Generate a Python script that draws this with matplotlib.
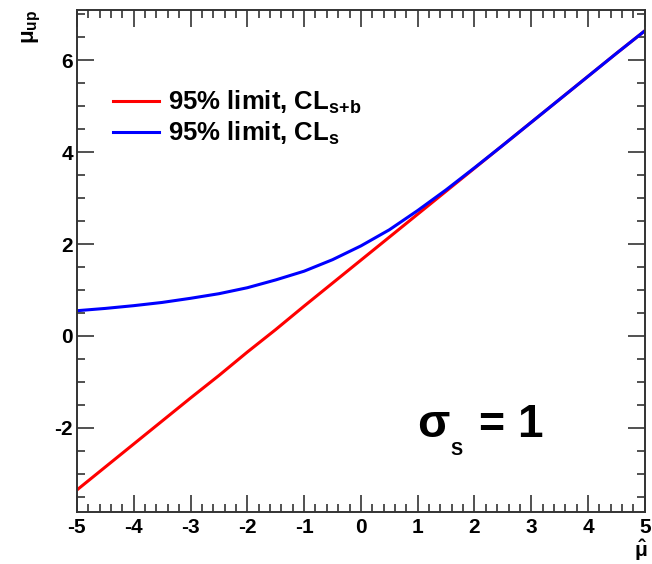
import numpy as np
import matplotlib
matplotlib.use("Agg")
import matplotlib.pyplot as plt
from matplotlib.ticker import MultipleLocator

plt.rcParams['font.family'] = ['Liberation Sans', 'DejaVu Sans']
plt.rcParams['font.weight'] = 'bold'
plt.rcParams['axes.unicode_minus'] = False
plt.rcParams['mathtext.fontset'] = 'custom'
plt.rcParams['mathtext.rm'] = 'Liberation Sans:bold'
plt.rcParams['mathtext.it'] = 'Liberation Sans:bold'
plt.rcParams['mathtext.bf'] = 'Liberation Sans:bold'

# best-fit signal strength
mu_hat = [-5, -4.5, -4, -3.5, -3, -2.5, -2, -1.5, -1, -0.5, 0, 0.5, 1, 1.5, 2, 2.5, 3, 3.5, 4, 4.5, 5]
# 95% CL upper limits
limit_clsb = [-3.35, -2.85, -2.35, -1.85, -1.35, -0.86, -0.35, 0.14, 0.65, 1.15, 1.65,
              2.15, 2.65, 3.15, 3.65, 4.15, 4.65, 5.15, 5.65, 6.15, 6.64]
limit_cls = [0.55, 0.60, 0.66, 0.73, 0.82, 0.92, 1.05, 1.22, 1.41, 1.66, 1.96,
             2.31, 2.73, 3.18, 3.66, 4.15, 4.65, 5.15, 5.65, 6.15, 6.64]

fig = plt.figure(figsize=(6.52, 5.64), dpi=100)
ax = fig.add_axes([0.118, 0.093, 0.871, 0.889])

ax.plot(mu_hat, limit_clsb, color='red', lw=2.2, label=r'95% limit, CL$_{\mathrm{s{+}b}}$')
ax.plot(mu_hat, limit_cls, color='blue', lw=2.2, label=r'95% limit, CL$_{\mathrm{s}}$')

ax.set_xlim(-5, 5)
ax.set_ylim(-3.82, 7.09)

ax.xaxis.set_major_locator(MultipleLocator(1))
ax.xaxis.set_minor_locator(MultipleLocator(0.2))
ax.yaxis.set_major_locator(MultipleLocator(2))
ax.yaxis.set_minor_locator(MultipleLocator(0.5))

frame_col = '#333333'
for sp in ax.spines.values():
    sp.set_linewidth(1.4)
    sp.set_color(frame_col)
ax.tick_params(which='both', direction='in', top=True, right=True, color=frame_col, width=1.2,
               labelsize=15)
ax.tick_params(which='major', length=12)
ax.tick_params(which='minor', length=6)
ax.tick_params(axis='x', which='major', pad=5)
ax.tick_params(axis='y', which='major', pad=3)
for lab in ax.get_xticklabels() + ax.get_yticklabels():
    lab.set_fontweight('bold')

# axis titles sit in the corners
fig.text(0.049, 0.982, r'$\mu_{\mathrm{up}}$', fontsize=16, rotation=90, ha='center', va='top')
fig.text(641 / 652, 1 - 550 / 564, r'$\hat{\mu}$', fontsize=15, ha='center', va='center')

leg = ax.legend(loc='upper left', bbox_to_anchor=(0.063, 0.843), frameon=False, borderpad=0,
                fontsize=18.5, handlelength=1.8, handletextpad=0.35, labelspacing=0.15,
                borderaxespad=0)
for t in leg.get_texts():
    t.set_fontweight('bold')

# annotation of the signal uncertainty
ax.text(0.599, 0.149, '\u03c3', transform=ax.transAxes, fontsize=34, fontweight='bold',
        ha='left', va='baseline')
ax.text(0.657, 0.113, 'S', transform=ax.transAxes, fontsize=13,
        ha='left', va='baseline')
ax.text(0.706, 0.149, '=', transform=ax.transAxes, fontsize=32, fontweight='bold',
        ha='left', va='baseline')
ax.text(0.775, 0.149, '1', transform=ax.transAxes, fontsize=33, fontweight='bold',
        ha='left', va='baseline')

fig.savefig('out.png', dpi=100)
